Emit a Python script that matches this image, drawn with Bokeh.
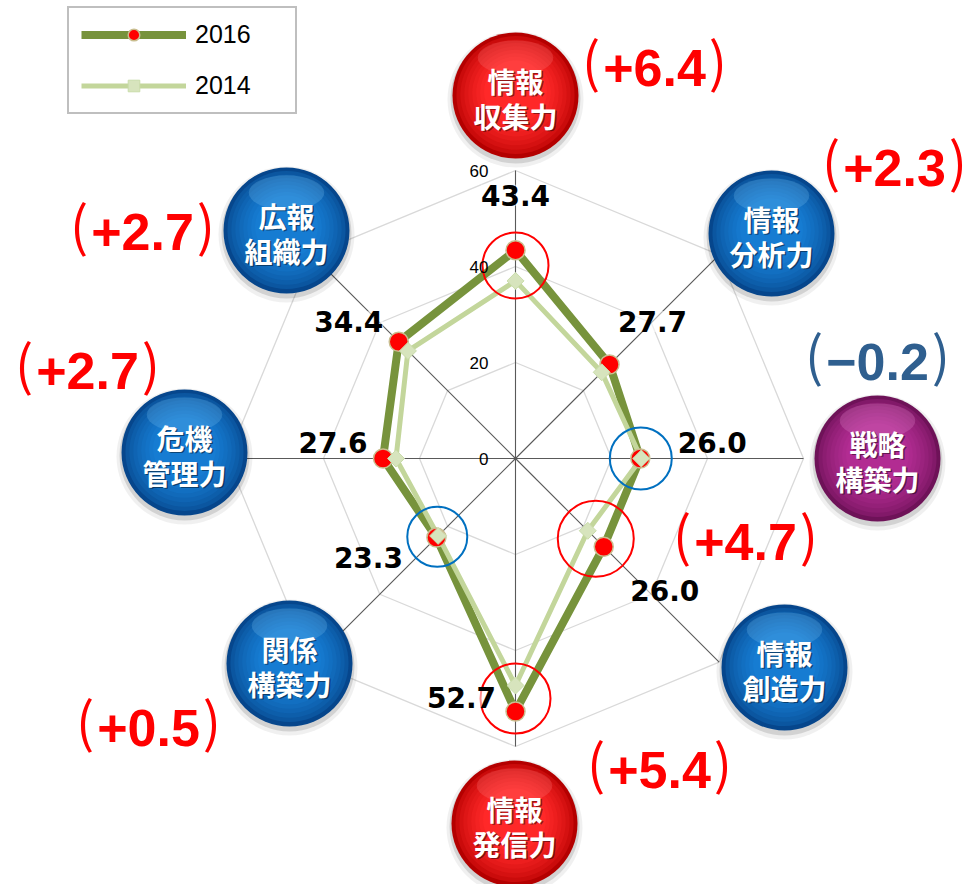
import numpy as np
from bokeh.plotting import figure
from bokeh.models import ColumnDataSource, LabelSet, Legend, LegendItem
from bokeh.core.properties import value
from bokeh.embed import file_html
from bokeh.resources import INLINE

# ---------------- data ----------------
categories = ["情報収集力", "情報分析力", "戦略構築力", "情報創造力",
              "情報発信力", "関係構築力", "危機管理力", "広報組織力"]
label_line1 = ["情報", "情報", "戦略", "情報", "情報", "関係", "危機", "広報"]
label_line2 = ["収集力", "分析力", "構築力", "創造力", "発信力", "構築力", "管理力", "組織力"]
values_2016 = [43.4, 27.7, 26.0, 26.0, 52.7, 23.3, 27.6, 34.4]
values_2014 = [37.0, 25.4, 26.2, 21.3, 47.3, 22.8, 24.9, 31.7]
value_labels = ["43.4", "27.7", "26.0", "26.0", "52.7", "23.3", "27.6", "34.4"]
change_labels = ["+6.4", "+2.3", "−0.2", "+4.7", "+5.4", "+0.5", "+2.7", "+2.7"]
tick_values = [0, 20, 40, 60]
tick_labels = ["0", "20", "40", "60"]
ring_values = [20, 40, 60]
highlight_idx = [0, 2, 3, 4, 5]

# ---------------- layout / style ----------------
S = 4.8                      # px per unit
W, H = 970, 884
CX, CY = 515, 458            # centre of the radar in figure pixels
RMAX = 60

bubble_kind = ["red", "blue", "purple", "blue", "red", "blue", "blue", "blue"]
bubble_px = [(0, 363), (256, 225), (362, 0), (269, -209),
             (-1, -365), (-226, -205), (-331, 6), (-229, 228)]
BUB_R = 63
change_px = [(139, 395), (379, 295), (362, 101), (230, -79),
             (144, -307), (-367, -265), (-428, 92), (-373, 231)]
change_color = ["#ff0000", "#ff0000", "#2f5f8f", "#ff0000",
                "#ff0000", "#ff0000", "#ff0000", "#ff0000"]
label_off_px = [(0, 55), (43, 43), (72, 16), (61, -44),
                (-54, 14), (-68, -20), (-50, 16), (-50, 20)]
highlight_color = ["#ff0000", "#0070c0", "#ff0000", "#ff0000", "#0070c0"]
highlight_r_px = [33, 31, 38, 35, 30]

palette = {
    "blue": ((6, 70, 140), (22, 124, 210)),
    "red": ((180, 0, 0), (255, 40, 40)),
    "purple": ((110, 18, 88), (178, 44, 146)),
}
highlight_tint = {"blue": "#7cc4f4", "red": "#ff8080", "purple": "#e890d4"}

CH_FS = 52          # change label digit size
PAREN_FS = 54
adv = {"+": 0.584, "−": 0.584, ".": 0.278}

theta = np.pi / 2 - np.arange(len(categories)) * np.pi / 4
cos_t, sin_t = np.cos(theta), np.sin(theta)

p = figure(width=W, height=H, output_backend="svg", toolbar_location=None,
           x_range=(-CX / S, (W - CX) / S), y_range=(-(H - CY) / S, CY / S),
           x_axis_location=None, y_axis_location=None, min_border=0,
           outline_line_color=None, background_fill_color="white")
p.grid.visible = False

# rings
ring_xs, ring_ys = [], []
for rv in ring_values:
    ring_xs.append(list(rv * np.append(cos_t, cos_t[0])))
    ring_ys.append(list(rv * np.append(sin_t, sin_t[0])))
p.multi_line(ring_xs, ring_ys, line_color="#d9d9d9", line_width=1.3)

# series lines
v16 = np.array(values_2016)
v14 = np.array(values_2014)
x16, y16 = v16 * cos_t, v16 * sin_t
x14, y14 = v14 * cos_t, v14 * sin_t
l16 = p.line(list(np.append(x16, x16[0])), list(np.append(y16, y16[0])),
             line_color="#77933c", line_width=8, line_join="round")
l14 = p.line(list(np.append(x14, x14[0])), list(np.append(y14, y14[0])),
             line_color="#c3d69b", line_width=5, line_join="round")

# spokes
p.segment(x0=[0] * 8, y0=[0] * 8, x1=list(RMAX * cos_t), y1=list(RMAX * sin_t),
          line_color="#595959", line_width=1.1)

# markers
m16 = p.scatter(list(x16), list(y16), marker="circle", size=19,
                fill_color="#ff0000", line_color="#c9bd8f", line_width=1.5)
m14 = p.scatter(list(x14), list(y14), marker="square", angle=np.pi / 4, size=12,
                fill_color="#d7e4bd", line_color="#c9dcaa", line_width=1)

# highlight circles
hx = [(v16[i] + v14[i]) / 2 * cos_t[i] for i in highlight_idx]
hy = [(v16[i] + v14[i]) / 2 * sin_t[i] for i in highlight_idx]
p.scatter(hx, hy, marker="circle", size=[2 * r for r in highlight_r_px],
          fill_color=None, line_color=highlight_color, line_width=2)

# axis tick labels
p.text(x=[-27 / S] * len(tick_values), y=tick_values, text=tick_labels,
       text_font=value("Liberation Sans"), text_font_size="17px",
       text_align="right", text_baseline="middle", text_color="#000000")

# value labels
lab_src = ColumnDataSource(dict(
    x=[x16[i] + label_off_px[i][0] / S for i in range(8)],
    y=[y16[i] + label_off_px[i][1] / S for i in range(8)],
    t=value_labels))
p.add_layout(LabelSet(x="x", y="y", text="t", source=lab_src,
                      text_align="center", text_baseline="middle",
                      text_font=value("DejaVu Sans"), text_font_size="28px",
                      text_font_style="bold", text_color="#000000",
                      background_fill_color="white", background_fill_alpha=0.55))


def lerp(c1, c2, t):
    return "#%02x%02x%02x" % tuple(int(round(a + (b - a) * t)) for a, b in zip(c1, c2))


# bubbles
bx = [b[0] / S for b in bubble_px]
by = [b[1] / S for b in bubble_px]
p.scatter(bx, [y - 4 / S for y in by], marker="circle", size=2 * BUB_R + 10,
          fill_color="#000000", fill_alpha=0.06, line_color=None)
p.scatter(bx, [y - 3 / S for y in by], marker="circle", size=2 * BUB_R + 4,
          fill_color="#000000", fill_alpha=0.12, line_color=None)
N = 9
for k in range(N):
    t = k / (N - 1)
    cols = [lerp(palette[kd][0], palette[kd][1], t ** 0.6) for kd in bubble_kind]
    p.scatter(bx, [y + (t * 0.06 * BUB_R) / S for y in by], marker="circle",
              size=2 * BUB_R * (1 - 0.5 * t), fill_color=cols, line_color=None)
# glossy top highlight
p.ellipse(bx, [y + 0.6 * BUB_R / S for y in by], width=1.2 * BUB_R / S,
          height=0.55 * BUB_R / S, fill_color=[highlight_tint[k] for k in bubble_kind],
          fill_alpha=0.25, line_color=None)

for dx, dy, col, alpha in [(1.5, -1.5, "#000000", 0.45), (0, 0, "#ffffff", 1.0)]:
    p.text(x=[x + dx / S for x in bx], y=[y + (15 + dy) / S for y in by], text=label_line1,
           text_font=value("Noto Sans CJK JP"), text_font_size="28px",
           text_font_style="bold", text_align="center", text_baseline="middle",
           text_color=col, text_alpha=alpha)
    p.text(x=[x + dx / S for x in bx], y=[y + (-20 + dy) / S for y in by], text=label_line2,
           text_font=value("Noto Sans CJK JP"), text_font_size="28px",
           text_font_style="bold", text_align="center", text_baseline="middle",
           text_color=col, text_alpha=alpha)

# change labels: "(" + value + ")"
inner_w = [sum(adv.get(ch, 0.556) for ch in s) * CH_FS for s in change_labels]
cx_l = [c[0] / S for c in change_px]
cy_l = [c[1] / S for c in change_px]
p.text(x=cx_l, y=[y - 4 / S for y in cy_l], text=change_labels,
       text_font=value("Liberation Sans"), text_font_size=f"{CH_FS}px",
       text_font_style="bold", text_align="center", text_baseline="middle",
       text_color=change_color)
GAP = 3
p.text(x=[x - (w / 2 + GAP) / S for x, w in zip(cx_l, inner_w)],
       y=[y + 5 / S for y in cy_l], text=["("] * 8,
       text_font=value("Noto Sans CJK JP"), text_font_size=f"{PAREN_FS}px",
       text_align="right", text_baseline="middle", text_color=change_color)
p.text(x=[x + (w / 2 + GAP) / S for x, w in zip(cx_l, inner_w)],
       y=[y + 5 / S for y in cy_l], text=[")"] * 8,
       text_font=value("Noto Sans CJK JP"), text_font_size=f"{PAREN_FS}px",
       text_align="left", text_baseline="middle", text_color=change_color)

# legend
legend = Legend(items=[LegendItem(label="2016", renderers=[l16, m16]),
                       LegendItem(label="2014", renderers=[l14, m14])],
                location=(67, 770), orientation="vertical",
                border_line_color="#808080", border_line_width=2,
                background_fill_color="white", background_fill_alpha=1.0,
                padding=12, spacing=22, glyph_width=105, glyph_height=29,
                label_height=29, label_width=88, label_standoff=9, margin=0,
                label_text_font="Liberation Sans", label_text_font_size="25px",
                label_text_color="#000000")
p.add_layout(legend)

open("out.html", "w").write(file_html(p, INLINE))
